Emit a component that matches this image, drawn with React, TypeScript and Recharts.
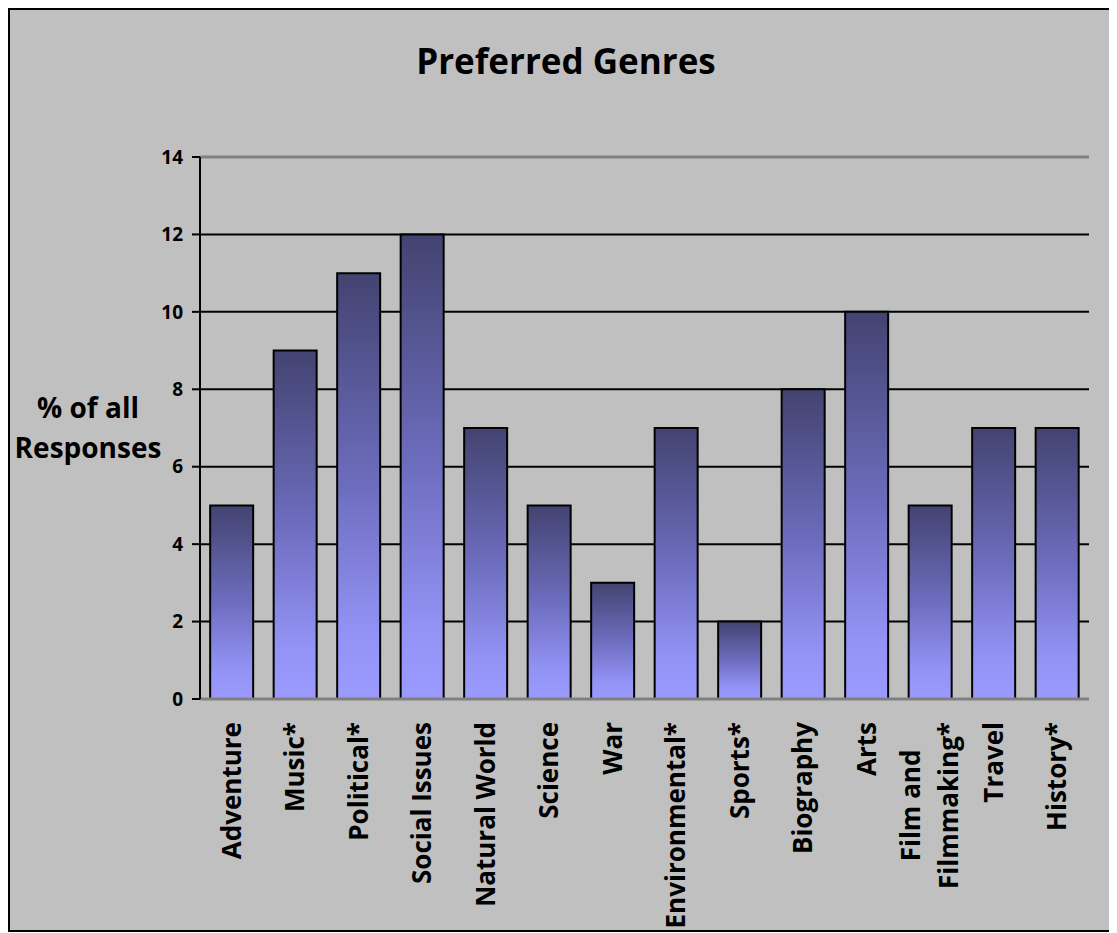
import React from 'react';
import { BarChart, Bar, XAxis, YAxis, CartesianGrid, ReferenceLine } from 'recharts';

const categories = [
  'Adventure',
  'Music*',
  'Political*',
  'Social Issues',
  'Natural World',
  'Science',
  'War',
  'Environmental*',
  'Sports*',
  'Biography',
  'Arts',
  'Film and Filmmaking*',
  'Travel',
  'History*',
];
const responses = [5, 9, 11, 12, 7, 5, 3, 7, 2, 8, 10, 5, 7, 7];
const yTicks = [0, 2, 4, 6, 8, 10, 12, 14];
const chartTitle = 'Preferred Genres';
const yLabelLines = ['% of all', 'Responses'];

const data = categories.map((c, i) => ({ genre: c, value: responses[i] }));

const FONT = "'Open Sans', 'DejaVu Sans', sans-serif";
const X_FONT_SIZE = 26;
const MAX_LABEL = 215;

let ctx: CanvasRenderingContext2D | null = null;
function measure(t: string): number {
  if (!ctx) ctx = document.createElement('canvas').getContext('2d');
  if (!ctx) return t.length * 14;
  ctx.font = `bold ${X_FONT_SIZE}px 'Open Sans'`;
  return ctx.measureText(t).width;
}

function wrap(label: string): string[] {
  const words = label.split(' ');
  const lines: string[] = [];
  let cur = '';
  for (const w of words) {
    const next = cur ? cur + ' ' + w : w;
    if (cur && measure(next) > MAX_LABEL) {
      lines.push(cur);
      cur = w;
    } else {
      cur = next;
    }
  }
  if (cur) lines.push(cur);
  return lines;
}

const XTick = (props: any) => {
  const { x, y, payload } = props;
  const lines = wrap(String(payload.value));
  const widths = lines.map(measure);
  const maxW = Math.max(...widths);
  const n = lines.length;
  const lineGap = 38;
  return (
    <g transform={`translate(${x},${y + 23}) rotate(-90)`}>
      {lines.map((l, i) => (
        <text
          key={i}
          x={-(maxW - widths[i]) / 2}
          y={9 + (i - (n - 1) / 2) * lineGap}
          textAnchor="end"
          fontFamily={FONT}
          fontWeight="bold"
          fontSize={X_FONT_SIZE}
          fill="#000"
        >
          {l}
        </text>
      ))}
    </g>
  );
};

export default function App() {
  return (
    <div
      style={{
        position: 'relative',
        width: 1112,
        height: 924,
        border: '2px solid #000',
        boxSizing: 'border-box',
        background: '#c0c0c0',
        overflow: 'hidden',
      }}
    >
      <BarChart
        width={1108}
        height={920}
        data={data}
        margin={{ top: 147, right: 29, bottom: 31, left: 130 }}
        barCategoryGap="16%"
      >
        <defs>
          <linearGradient id="barGrad" x1="0" y1="0" x2="0" y2="1">
            <stop offset="0" stopColor="#434371" />
            <stop offset="0.5" stopColor="#6d6dbf" />
            <stop offset="0.85" stopColor="#9393f6" />
            <stop offset="1" stopColor="#9b9bff" />
          </linearGradient>
        </defs>
        <CartesianGrid yAxisId="l" vertical={false} stroke="#000" strokeWidth={2} />
        <ReferenceLine yAxisId="l" y={14} stroke="#808080" strokeWidth={3} />
        <XAxis
          dataKey="genre"
          height={200}
          interval={0}
          tickLine={false}
          tickSize={0}
          tickMargin={0}
          axisLine={{ stroke: '#808080', strokeWidth: 3 }}
          tick={<XTick />}
        />
        <YAxis
          yAxisId="l"
          width={60}
          domain={[0, 14]}
          ticks={yTicks}
          interval={0}
          tickSize={8}
          tickMargin={9}
          tickLine={{ stroke: '#000', strokeWidth: 2 }}
          axisLine={{ stroke: '#000', strokeWidth: 2 }}
          tick={{ fill: '#000', fontSize: 19, fontWeight: 'bold', fontFamily: FONT }}
        />
        <YAxis
          yAxisId="r"
          orientation="right"
          width={0}
          domain={[0, 14]}
          tick={false}
          tickLine={false}
          axisLine={{ stroke: '#808080', strokeWidth: 3 }}
        />
        <Bar
          yAxisId="l"
          dataKey="value"
          fill="url(#barGrad)"
          stroke="#000"
          strokeWidth={2}
          isAnimationActive={false}
        />
      </BarChart>
      <svg
        width={1108}
        height={920}
        style={{ position: 'absolute', left: 0, top: 0, pointerEvents: 'none' }}
      >
        <text
          x={556}
          y={64}
          textAnchor="middle"
          fontFamily={FONT}
          fontWeight="bold"
          fontSize={35}
          fill="#000"
        >
          {chartTitle}
        </text>
        {yLabelLines.map((l, i) => (
          <text
            key={i}
            x={78}
            y={408 + i * 40}
            textAnchor="middle"
            fontFamily={FONT}
            fontWeight="bold"
            fontSize={28}
            fill="#000"
          >
            {l}
          </text>
        ))}
      </svg>
    </div>
  );
}
